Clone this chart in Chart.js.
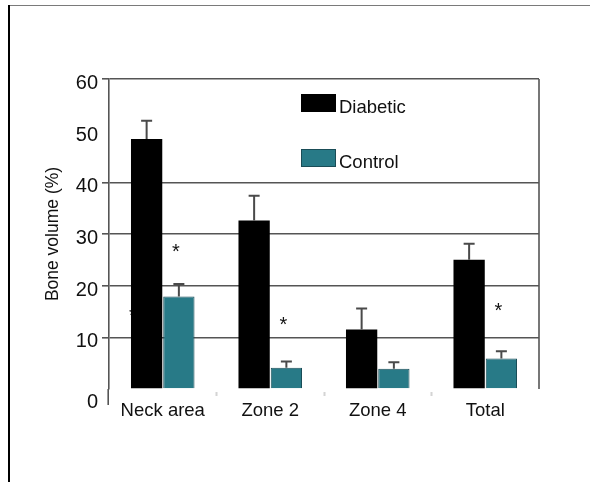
<!DOCTYPE html>
<html>
<head>
<meta charset="utf-8">
<script src="https://cdn.jsdelivr.net/npm/chart.js@4"></script>
<style>
  html, body { margin: 0; padding: 0; background: #fff; }
  #wrap { width: 590px; height: 482px; }
</style>
</head>
<body>
<div id="wrap"><canvas id="c" width="590" height="482"></canvas></div>
<script>
// Bone volume (%) by region, diabetic vs control, mean + SD
const categories = ['Neck area', 'Zone 2', 'Zone 4', 'Total'];
const diabetic = [48.4, 32.6, 11.5, 25.0];
const diabeticErr = [3.5, 4.8, 4.1, 3.1];
const control = [17.9, 4.1, 3.9, 5.9];
const controlErr = [2.4, 1.2, 1.3, 1.4];
const yTicks = [0, 10, 20, 30, 40, 50, 60];
const hiddenGridValues = [0, 50];
// significance marks: category index and height (% units)
const sigMarks = [[0, 27.2], [1, 13.2], [3, 15.9]];
const coveredMark = [0, 15.0];

const FONT = '"Liberation Sans", Arial, Helvetica, sans-serif';
const GRID = '#555';
const TEAL = '#287a87';

function drawStar(ctx, x, y, size) {
  ctx.font = size + 'px ' + FONT;
  ctx.textAlign = 'center';
  ctx.textBaseline = 'alphabetic';
  const m = ctx.measureText('*');
  const mid = (m.actualBoundingBoxAscent - m.actualBoundingBoxDescent) / 2;
  ctx.fillText('*', x, y + mid);
}

const decor = {
  id: 'decor',
  beforeDraw(chart) {
    const ctx = chart.ctx;
    ctx.save();
    ctx.fillStyle = '#fff';
    ctx.fillRect(0, 0, chart.width, chart.height);
    // page frame: thin grey top rule, heavy left rule
    ctx.strokeStyle = '#7a7a7a';
    ctx.lineWidth = 1;
    ctx.beginPath();
    ctx.moveTo(8, 5.5);
    ctx.lineTo(chart.width, 5.5);
    ctx.stroke();
    ctx.strokeStyle = '#000';
    ctx.lineWidth = 2;
    ctx.beginPath();
    ctx.moveTo(9, 5);
    ctx.lineTo(9, chart.height);
    ctx.stroke();
    ctx.restore();
  },
  beforeDatasetsDraw(chart) {
    const ctx = chart.ctx;
    const area = chart.chartArea;
    const y = chart.scales.y;
    ctx.save();
    // right frame of the plot
    ctx.strokeStyle = GRID;
    ctx.lineWidth = 1.6;
    ctx.beginPath();
    ctx.moveTo(area.right, area.top);
    ctx.lineTo(area.right, area.bottom);
    ctx.stroke();
    // value axis runs a little below the baseline
    ctx.beginPath();
    ctx.moveTo(area.left - 0.8, area.bottom);
    ctx.lineTo(area.left - 0.8, area.bottom + 16);
    ctx.stroke();
    // mark partly hidden behind the first bar
    const bar = chart.getDatasetMeta(0).data[coveredMark[0]];
    ctx.fillStyle = '#111';
    drawStar(ctx, bar.x - bar.width / 2 + 2, y.getPixelForValue(coveredMark[1]), 20);
    ctx.restore();
  },
  afterDatasetsDraw(chart) {
    const ctx = chart.ctx;
    const y = chart.scales.y;
    const area = chart.chartArea;
    ctx.save();
    // error bars (upper only)
    const errs = [diabeticErr, controlErr];
    const vals = [diabetic, control];
    ctx.strokeStyle = '#4a4a4a';
    ctx.lineWidth = 2;
    errs.forEach((err, d) => {
      chart.getDatasetMeta(d).data.forEach((el, i) => {
        const top = y.getPixelForValue(vals[d][i] + err[i]);
        ctx.beginPath();
        ctx.moveTo(el.x, el.y);
        ctx.lineTo(el.x, top);
        ctx.moveTo(el.x - 5.5, top);
        ctx.lineTo(el.x + 5.5, top);
        ctx.stroke();
      });
    });
    // significance asterisks
    ctx.fillStyle = '#111';
    const ctrl = chart.getDatasetMeta(1).data;
    sigMarks.forEach(([i, v]) => {
      drawStar(ctx, ctrl[i].x - 3, y.getPixelForValue(v), 20);
    });
    // legend inside the plot
    const ds = chart.data.datasets;
    const bx = area.left + 192;
    const rows = [area.top + 15, area.top + 70];
    ds.forEach((set, k) => {
      const top = rows[k];
      ctx.fillStyle = set.backgroundColor;
      ctx.fillRect(bx, top, 35, 18);
      if (set.borderWidth) {
        ctx.strokeStyle = set.borderColor;
        ctx.lineWidth = 1;
        ctx.strokeRect(bx + 0.5, top + 0.5, 34, 17);
      }
      ctx.fillStyle = '#111';
      ctx.font = '18.5px ' + FONT;
      ctx.textAlign = 'left';
      ctx.textBaseline = 'alphabetic';
      ctx.fillText(set.label, bx + 38, top + 19);
    });
    ctx.restore();
  }
};

new Chart(document.getElementById('c'), {
  type: 'bar',
  data: {
    labels: categories,
    datasets: [
      { label: 'Diabetic', data: diabetic, backgroundColor: '#000', borderColor: '#000', borderWidth: 0 },
      { label: 'Control', data: control, backgroundColor: TEAL, borderColor: '#1a4d57', borderWidth: 1 }
    ]
  },
  options: {
    responsive: false,
    animation: false,
    devicePixelRatio: 1,
    categoryPercentage: 0.6,
    barPercentage: 0.97,
    layout: { padding: { left: 0, right: 51, top: 79, bottom: 0 } },
    plugins: { legend: { display: false }, tooltip: { enabled: false } },
    scales: {
      x: {
        grid: {
          display: true,
          offset: true,
          drawOnChartArea: false,
          tickLength: 8,
          tickWidth: 2,
          tickColor: (c) => (c.index === undefined || c.index === 0) ? 'rgba(0,0,0,0)' : '#d4d4d4',
          tickBorderDash: [0, 3, 4, 20]
        },
        border: { display: false },
        ticks: { padding: 3, color: '#111', font: { family: FONT, size: 18.5 } },
        afterFit: (s) => { s.height = 93; }
      },
      y: {
        min: 0,
        max: 60,
        afterBuildTicks: (s) => { s.ticks = yTicks.map(v => ({ value: v })); },
        grid: {
          color: (c) => hiddenGridValues.includes(c.tick && c.tick.value) ? 'rgba(0,0,0,0)' : GRID,
          lineWidth: 1.6,
          tickLength: 7
        },
        border: { display: true, color: GRID, width: 1.6 },
        ticks: {
          autoSkip: false,
          padding: 4,
          color: '#111',
          font: { family: FONT, size: 20, lineHeight: '9px' },
          callback: (v) => v === 0 ? ['', '', '', '0'] : ['', String(v)]
        },
        title: {
          display: true,
          text: 'Bone volume (%)',
          color: '#111',
          font: { family: FONT, size: 17.5 },
          padding: { top: 43, bottom: 0 }
        },
        afterFit: (s) => { s.width = 109; }
      }
    }
  },
  plugins: [decor]
});
</script>
</body>
</html>
